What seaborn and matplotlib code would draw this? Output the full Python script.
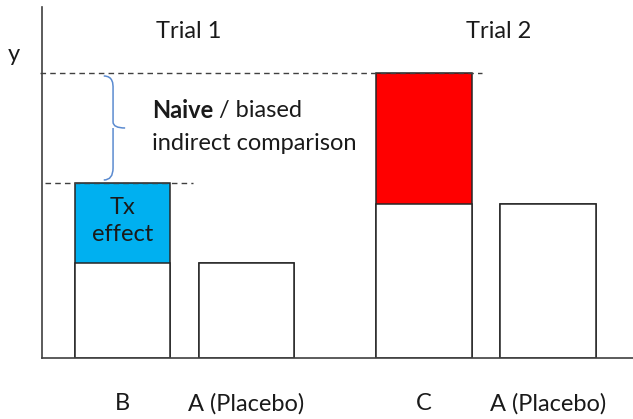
import matplotlib
matplotlib.use("Agg")
import matplotlib.pyplot as plt
from matplotlib.path import Path
from matplotlib.patches import PathPatch
import pandas as pd
import seaborn as sns

# data
arms = ["B", "A (Placebo)", "C", "A (Placebo)"]
trials = ["Trial 1", "Trial 1", "Trial 2", "Trial 2"]
segments = ["B", "A1", "C", "A2"]
baseline = [95, 95, 154, 154]      # white part of each bar
total = [175, 95, 285, 154]        # full bar height

seg_colors = {"B": "#00B0F0", "A1": "white", "C": "#FF0000", "A2": "white"}

sns.set_theme(style="white")
plt.rcParams["font.family"] = ["Lato", "DejaVu Sans"]
fs = 17
txt = "#1a1a1a"

# layout: extra gap between the two trials
trial_gap = 0.43
trial_idx = [sorted(set(trials)).index(t) for t in trials]
pos = [i + trial_gap * t for i, t in enumerate(trial_idx)]

df = pd.DataFrame({"pos": pos, "arm": arms, "trial": trials, "seg": segments,
                   "base": baseline, "total": total})

fig = plt.figure(figsize=(6.33, 4.19), dpi=100)
ax = fig.add_axes([42 / 633, 61 / 419, 591 / 633, 351 / 419])

edge = "#262626"
sns.barplot(data=df, x="pos", y="total", hue="seg", palette=seg_colors,
            saturation=1, native_scale=True, dodge=False, legend=False,
            width=0.77, edgecolor=edge, linewidth=1.1, ax=ax)
sns.barplot(data=df, x="pos", y="base", color="white", saturation=1,
            native_scale=True, width=0.77, edgecolor=edge, linewidth=1.1, ax=ax)

ax.set_xlim(-0.649, -0.649 + 591 / 124)
ax.set_ylim(0, 351)

for s in ["top", "right"]:
    ax.spines[s].set_visible(False)
for s in ["left", "bottom"]:
    ax.spines[s].set_color("#404040")
    ax.spines[s].set_linewidth(1.2)

ax.set_yticks([])
ax.set_xticks(df["pos"], df["arm"])
ax.tick_params(axis="x", length=0, pad=25, labelsize=fs, colors=txt)
ax.set_xlabel("")
ax.set_ylabel("y", rotation=0, fontsize=fs, color=txt)
ax.yaxis.set_label_coords(-0.047, 0.835)

# trial titles
title_shift = [0.03, 0.1]
for i, t in enumerate(sorted(set(trials))):
    sub = df[df["trial"] == t]
    xc = sub["pos"].mean()
    ax.text(xc + title_shift[i], 326, t, ha="center", va="center",
            fontsize=fs, color=txt)

# dashed reference lines at top of B and C bars
b_top = df.loc[0, "total"]
c_top = df.loc[2, "total"]
ax.plot([-0.665, df.loc[2, "pos"] + 0.47], [c_top, c_top], ls=(0, (4, 3)),
        color="#404040", lw=1, clip_on=False)
ax.plot([-0.625, df.loc[0, "pos"] + 0.57], [b_top, b_top], ls=(0, (4, 3)),
        color="#404040", lw=1, clip_on=False)

# curly brace between the two tops
bx, w = -0.076, 0.075
y0, y1 = b_top + 3, c_top - 3
ym = (y0 + y1) / 2
verts = [(bx - w, y1), (bx, y1), (bx, y1 - 8), (bx, y1 - 12),
         (bx, ym + 6), (bx, ym), (bx + w * 1.3, ym),
         (bx, ym), (bx, ym - 6), (bx, ym - 12),
         (bx, y0 + 12), (bx, y0), (bx - w, y0)]
codes = [Path.MOVETO, Path.CURVE4, Path.CURVE4, Path.CURVE4,
         Path.LINETO, Path.CURVE3, Path.CURVE3,
         Path.MOVETO, Path.CURVE3, Path.CURVE3,
         Path.LINETO, Path.CURVE3, Path.CURVE3]
ax.add_patch(PathPatch(Path(verts, codes), fill=False, edgecolor="#5B8BD0", lw=1.1))

# annotation text
t1 = ax.text(0.238, 248, "Naive", fontsize=fs, fontweight="bold",
             va="center", ha="left", color=txt)
ax.annotate(" / biased", xy=(1, 0.5), xycoords=t1, va="center", ha="left",
            fontsize=fs, color=txt)
ax.text(0.238, 215, "indirect comparison", fontsize=fs, va="center", ha="left",
        color=txt)
ax.text(df.loc[0, "pos"], (df.loc[0, "base"] + b_top) / 2 + 2, "Tx\neffect",
        ha="center", va="center", fontsize=fs, linespacing=1.35, color=txt)

fig.savefig("out.png", dpi=100, facecolor="white")
